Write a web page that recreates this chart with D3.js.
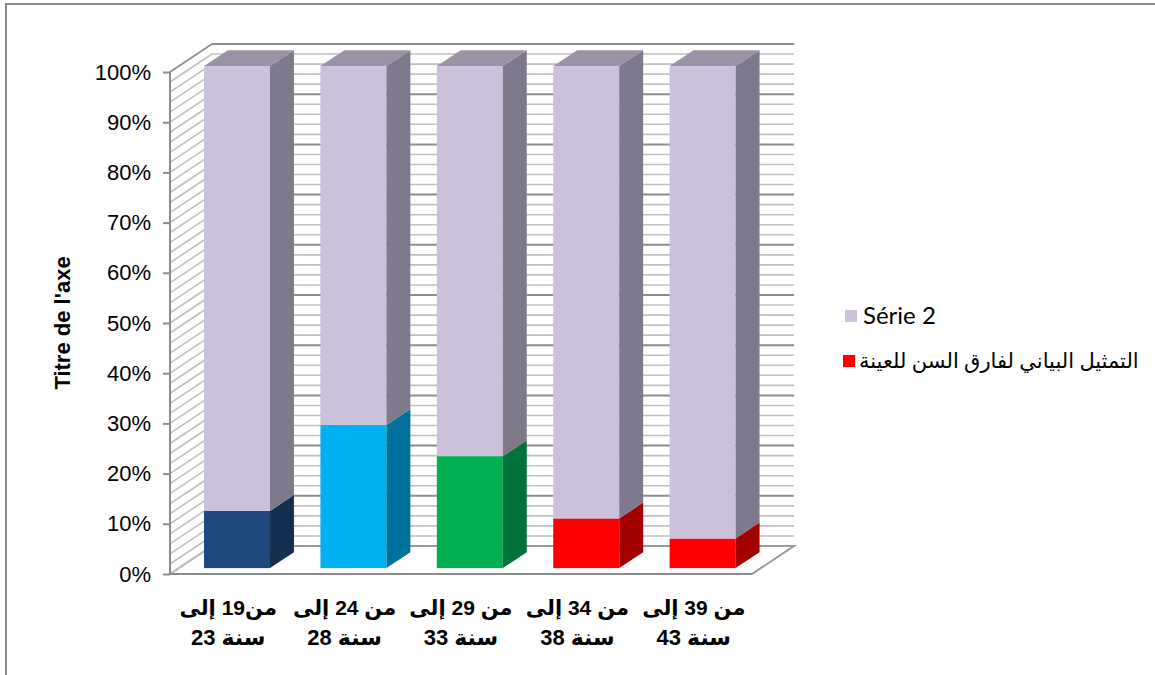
<!DOCTYPE html>
<html><head><meta charset="utf-8">
<script src="https://cdn.jsdelivr.net/npm/d3@7"></script>
<style>
html,body{margin:0;padding:0;background:#fff;}
svg{display:block;}
</style></head>
<body>
<svg id="chart" width="1155" height="675"></svg>
<script>
// ---- data ----
const categoryLine1 = ["من19 إلى", "من 24 إلى", "من 29 إلى", "من 34 إلى", "من 39 إلى"];
const categoryLine2 = ["23 سنة", "28 سنة", "33 سنة", "38 سنة", "43 سنة"];
const seriesNames = ["التمثيل البياني لفارق السن للعينة", "Série 2"];
const series1 = [11.4, 28.5, 22.3, 9.9, 5.9];
const series2 = [88.6, 71.5, 77.7, 90.1, 94.1];
const tickValues = [0, 0.1, 0.2, 0.3, 0.4, 0.5, 0.6, 0.7, 0.8, 0.9, 1.0];
const minorTickValues = d3.range(0, 51).map(i => i / 50);
const axisTitle = "Titre de l'axe";

// ---- styles ----
const s1Front = ["#1F497D", "#00B0F0", "#00B050", "#FF0000", "#FF0000"];
const s1Side  = ["#142E50", "#00719B", "#00733A", "#A30000", "#A30000"];
const s2Front = "#CCC1DA", s2Side = "#7F7A8B", s2Top = "#9C92A6";

const svg = d3.select("#chart");
const FX0 = 170, FX1 = 752, FY0 = 574, FY1 = 72;
const DX = 42, DY = -28;
const BD0 = 0.21, BD1 = 0.78;

const cats = d3.range(categoryLine1.length);
const x = d3.scaleBand().domain(cats).range([FX0, FX1]).paddingInner(0.433).paddingOuter(0.2165);
const y = d3.scaleLinear().domain([0, 1]).range([FY0, FY1]);
const P = (xx, v, d) => [xx + d * DX, y(v) + d * DY];

// outer border
svg.append("rect").attr("x", 6).attr("y", 4).attr("width", 1170).attr("height", 690)
  .attr("fill", "#fff").attr("stroke", "#888").attr("stroke-width", 2);

// floor
const floor = [P(FX0, 0, 0), P(FX1, 0, 0), P(FX1, 0, 1), P(FX0, 0, 1)];
svg.append("polygon").attr("points", floor.map(p => p.join(",")).join(" "))
  .attr("fill", "#fff").attr("stroke", "#999").attr("stroke-width", 2);

// back wall & side wall gridlines
const isMajor = v => Math.abs(v * 10 - Math.round(v * 10)) < 1e-6;
const grid = svg.append("g");
minorTickValues.forEach(v => {
  const major = isMajor(v);
  const col = major ? "#8c8c8c" : "#bfbfbf";
  const w = major ? 2 : 1.6;
  if (v > 0) {
    const a = P(FX0, v, 1), b = P(FX1, v, 1);
    grid.append("line").attr("x1", a[0]).attr("y1", a[1]).attr("x2", b[0]).attr("y2", b[1])
      .attr("stroke", col).attr("stroke-width", w);
  }
  const c = P(FX0, v, 0), d = P(FX0, v, 1);
  grid.append("line").attr("x1", c[0]).attr("y1", c[1]).attr("x2", d[0]).attr("y2", d[1])
    .attr("stroke", v === 1 ? "#8c8c8c" : "#bfbfbf").attr("stroke-width", 1.6);
});

// front axis line and ticks
svg.append("line").attr("x1", FX0).attr("x2", FX0).attr("y1", y(0)).attr("y2", y(1))
  .attr("stroke", "#8c8c8c").attr("stroke-width", 2);
svg.append("line").attr("x1", FX0).attr("x2", FX1).attr("y1", y(0)).attr("y2", y(0))
  .attr("stroke", "#8c8c8c").attr("stroke-width", 2);
const yAxis = d3.axisLeft(y).tickValues(tickValues).tickFormat(d3.format(".0%")).tickSize(7).tickPadding(12);
const ya = svg.append("g").attr("transform", `translate(${FX0},0)`).call(yAxis);
ya.select(".domain").remove();
ya.selectAll(".tick line").attr("stroke", "#8c8c8c").attr("stroke-width", 2);
ya.selectAll(".tick text").attr("font-family", "Liberation Sans, Arial, sans-serif")
  .attr("font-size", 22).attr("fill", "#000");

// bars
const stack = d3.stack().keys([0, 1]).value((d, k) => k === 0 ? series1[d] : series2[d]).offset(d3.stackOffsetExpand);
const stacked = stack(cats);
const bw = x.bandwidth();
const bars = svg.append("g");
cats.forEach(i => {
  stacked.forEach((layer, k) => {
    const [v0, v1] = layer[i];
    const xl = x(i), xr = x(i) + bw;
    const front = k === 0 ? s1Front[i] : s2Front;
    const side = k === 0 ? s1Side[i] : s2Side;
    const fl0 = P(xl, v0, BD0), fr1 = P(xr, v1, BD0);
    bars.append("rect").attr("x", fl0[0]).attr("y", fr1[1]).attr("width", bw).attr("height", fl0[1] - fr1[1])
      .attr("fill", front);
    const sp = [P(xr, v0, BD0), P(xr, v1, BD0), P(xr, v1, BD1), P(xr, v0, BD1)];
    bars.append("polygon").attr("points", sp.map(p => p.join(",")).join(" ")).attr("fill", side);
    if (k === stacked.length - 1) {
      const tp = [P(xl, v1, BD0), P(xr, v1, BD0), P(xr, v1, BD1), P(xl, v1, BD1)];
      bars.append("polygon").attr("points", tp.map(p => p.join(",")).join(" ")).attr("fill", s2Top);
    }
  });
});

// x labels
const xlg = svg.append("g").attr("font-family", "Liberation Sans, DejaVu Sans, Arial, sans-serif")
  .attr("font-weight", "bold").attr("fill", "#000");
cats.forEach(i => {
  const cx = x(i) + bw / 2;
  xlg.append("text").attr("x", cx).attr("y", 615).attr("font-size", 21)
    .attr("text-anchor", "middle").text(categoryLine1[i]);
  // second line: number on the left, word on the right (as in the reference)
  const parts = categoryLine2[i].split(" ");
  const tNum = xlg.append("text").attr("y", 645).attr("font-size", 22).text(parts[0]);
  const tWord = xlg.append("text").attr("y", 645).attr("font-size", 22).text(parts.slice(1).join(" "));
  const wN = tNum.node().getComputedTextLength(), wW = tWord.node().getComputedTextLength();
  const gap = 6, total = wN + gap + wW;
  tNum.attr("x", cx - total / 2);
  tWord.attr("x", cx - total / 2 + wN + gap);
});

// axis title
svg.append("text").attr("transform", "translate(70,323) rotate(-90)")
  .attr("text-anchor", "middle").attr("font-family", "Liberation Sans, Arial, sans-serif")
  .attr("font-weight", "bold").attr("font-size", 22).text(axisTitle);

// legend
const lg = svg.append("g").attr("font-family", "Lato, DejaVu Sans, sans-serif");
lg.append("rect").attr("x", 845).attr("y", 310).attr("width", 12).attr("height", 12).attr("fill", s2Front);
lg.append("text").attr("x", 863).attr("y", 324).attr("font-size", 24).text(seriesNames[1]);
lg.append("rect").attr("x", 843).attr("y", 355).attr("width", 12).attr("height", 12).attr("fill", s1Front[3]);
lg.append("text").attr("x", 859).attr("y", 368).attr("font-size", 21).text(seriesNames[0]);
</script>
</body></html>
